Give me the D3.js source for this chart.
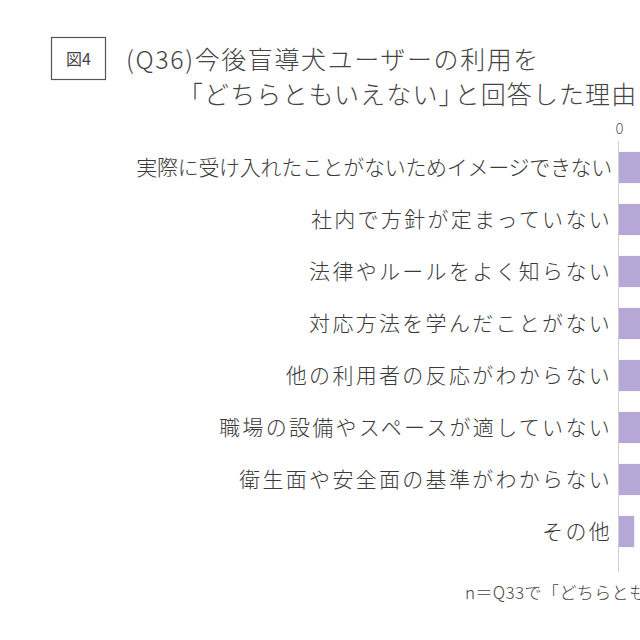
<!DOCTYPE html>
<html><head><meta charset="utf-8">
<script src="https://cdn.jsdelivr.net/npm/d3@7"></script>
<style>
html,body{margin:0;padding:0;background:#fff;overflow:hidden;}
text{font-family:"Noto Sans CJK JP","Noto Sans",sans-serif;}
</style></head>
<body><div id="chart"></div>
<script>
const figLabel = "図4";
const titleLine1 = "(Q36)今後盲導犬ユーザーの利用を";
const titleLine2Parts = ["「どちらともいえない」", "と回答した理由を教えてください（複数回答）"];
const categories = [
  "実際に受け入れたことがないためイメージできない",
  "社内で方針が定まっていない",
  "法律やルールをよく知らない",
  "対応方法を学んだことがない",
  "他の利用者の反応がわからない",
  "職場の設備やスペースが適していない",
  "衛生面や安全面の基準がわからない",
  "その他"
];
const values = [45.2, 38.5, 33.1, 30.4, 28.7, 24.3, 21.6, 1.9];
const tickValues = [0, 10, 20, 30, 40, 50];
const footnote = "n＝Q33で「どちらともいえない」と回答した人";

const W = 1100, H = 640;
const svg = d3.select("#chart").append("svg").attr("width", W).attr("height", H);

const x = d3.scaleLinear().domain([0, 50]).range([619, 619 + 400]);
const y = d3.scaleBand().domain(categories).range([141.5, 141.5 + 8 * 52]).paddingInner(0.4).paddingOuter(0.2);

// figure label box
svg.append("rect").attr("x", 51.5).attr("y", 37.5).attr("width", 54).attr("height", 42)
  .attr("fill", "none").attr("stroke", "#555").attr("stroke-width", 1.2);
svg.append("text").attr("x", 78.5).attr("y", 64.5).attr("text-anchor", "middle")
  .attr("font-size", 16).attr("fill", "#444").text(figLabel);

// title
svg.append("text").attr("x", 126).attr("y", 69).attr("font-size", 25).attr("font-weight", 300)
  .attr("fill", "#444").attr("letter-spacing", 1.6).text(titleLine1);
const t2 = svg.append("text").attr("x", 178).attr("y", 104).attr("font-size", 25).attr("font-weight", 300)
  .attr("fill", "#444").attr("letter-spacing", 1.1);
t2.append("tspan").text(titleLine2Parts[0]);
t2.append("tspan").attr("dx", -10).text(titleLine2Parts[1]);

// top axis (only tick labels)
const ax = svg.append("g").attr("transform", "translate(0,134)")
  .call(d3.axisTop(x).tickValues(tickValues).tickSize(0).tickPadding(0));
ax.select(".domain").remove();
ax.selectAll("text").style("font-size", "15px").style("fill", "#555")
  .style("font-family", "\"Noto Sans CJK JP\",sans-serif").style("font-weight", 300);

// bars
svg.append("g").selectAll("rect").data(categories).join("rect")
  .attr("x", x(0))
  .attr("y", d => y(d))
  .attr("width", (d, i) => x(values[i]) - x(0))
  .attr("height", y.bandwidth())
  .attr("fill", "#b5a8d7");

// vertical axis line
svg.append("line").attr("x1", x(0) - 0.5).attr("x2", x(0) - 0.5).attr("y1", 141).attr("y2", 572)
  .attr("stroke", "#cfcfcf").attr("stroke-width", 1);

// category labels
svg.append("g").selectAll("text").data(categories).join("text")
  .attr("x", 612)
  .attr("y", d => y(d) + y.bandwidth() / 2)
  .attr("dy", "0.35em")
  .attr("text-anchor", "end")
  .attr("font-size", 21)
  .attr("font-weight", 300)
  .attr("fill", "#3a3a3a")
  .attr("letter-spacing", (d, i) => i === 0 ? -0.3 : 2.3)
  .text(d => d);

// footnote
svg.append("text").attr("x", 465).attr("y", 599).attr("font-size", 17).attr("font-weight", 300)
  .attr("fill", "#444").attr("letter-spacing", 0.4).text(footnote);
</script></body></html>
